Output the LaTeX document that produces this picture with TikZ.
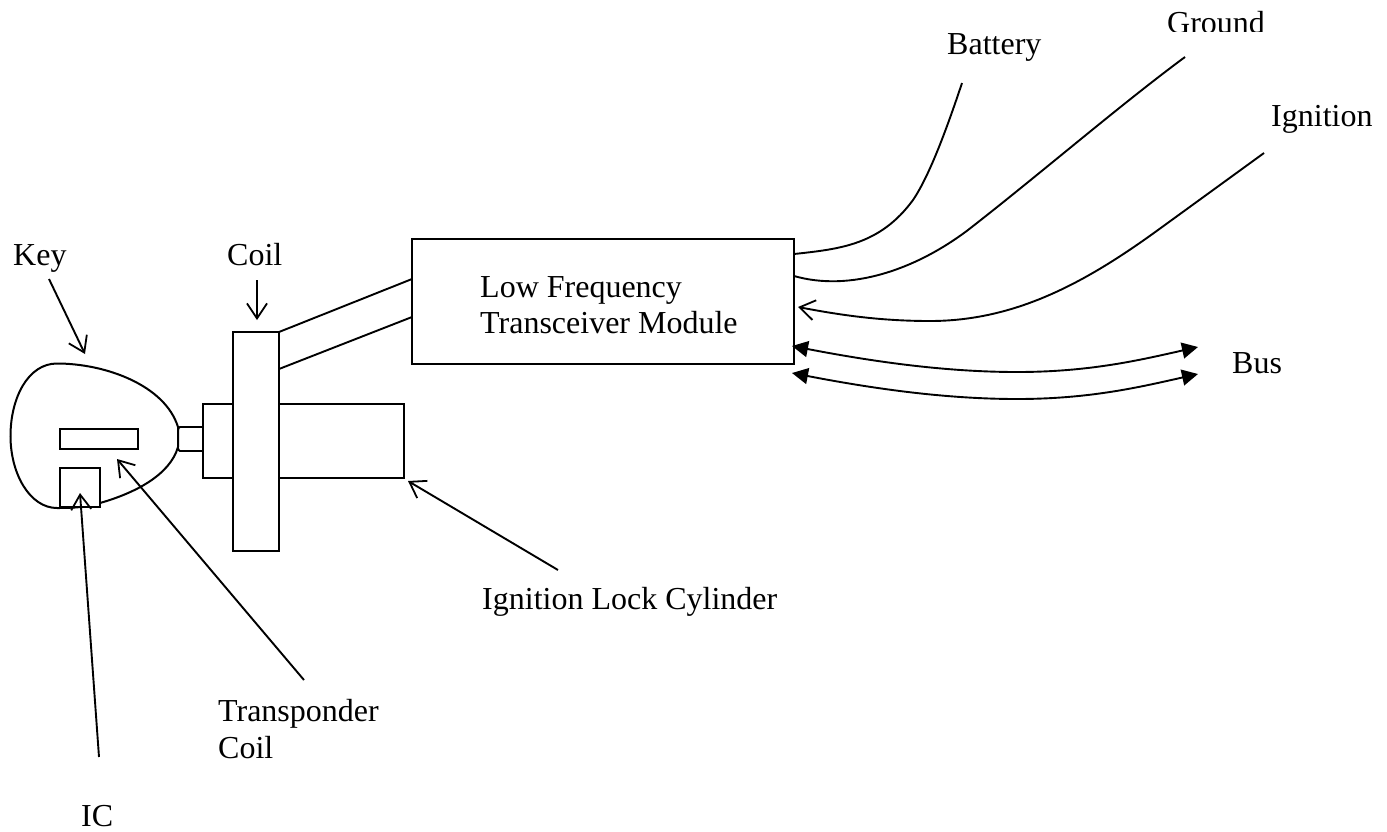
\documentclass[tikz,border=0pt]{standalone}
\usepackage{fontspec}
\setmainfont{Liberation Serif}
\usetikzlibrary{arrows.meta}
\tikzset{
  lbl/.style={anchor=base west,inner sep=0pt,font=\fontsize{32}{36}\selectfont},
  part/.style={draw=black,line width=2pt,fill=white,inner sep=0pt},
  wire/.style={draw=black,line width=1.9pt},
  openarrow/.style={wire,-{Straight Barb[length=15pt,width=20pt,line width=1.8pt]}},
  busarrow/.style={wire,{Triangle[length=16pt,width=16pt]}-{Triangle[length=16pt,width=16pt]}},
}
\begin{document}
\begin{tikzpicture}[x=1pt,y=-1pt]
\useasboundingbox (0,0) rectangle (1387,831);
% key
\draw[wire,line width=2pt] (57,363.5)
  .. controls (28,363.5) and (10.5,398) .. (10.5,436)
  .. controls (10.5,474) and (30,508) .. (57,508)
  .. controls (75,508) and (88,507) .. (100,503)
  .. controls (135,493) and (170,475) .. (178,447)
  -- (178,427)
  .. controls (165,385) and (105,363.5) .. (57,363.5) -- cycle;
\coordinate (sTR) at (204,427);
\coordinate (sBR) at (204,451);
\draw[wire] (sTR) -- (180,427) to[out=180,in=70] (178,430) -- (178,448) to[out=-70,in=180] (180,451) -- (sBR);
% boxes
\node[part,minimum width=78pt,minimum height=20pt] (tcoil) at (99,439) {};
\node[part,minimum width=40pt,minimum height=39pt] (ic) at (80,487.5) {};
\node[part,minimum width=125pt,minimum height=74pt] (cyl) at (341.5,441) {};
\node[part,minimum width=31pt,minimum height=74pt] (collar) at (218.5,441) {};
\node[part,minimum width=46pt,minimum height=219pt] (coil) at (256,441.5) {};
\node[part,minimum width=382pt,minimum height=125pt] (mod) at (603,301.5) {};
% coil to module
\coordinate (c1) at (279,332); \coordinate (m1) at (412,279);
\coordinate (c2) at (279,369); \coordinate (m2) at (412,317);
\draw[wire] (c1) -- (m1);
\draw[wire] (c2) -- (m2);
% labels
\node[lbl] (lkey) at (13,265) {Key};
\node[lbl] (lcoil) at (227,265) {Coil};
\node[lbl] (lmod1) at (480,297) {Low Frequency};
\node[lbl] (lmod2) at (480,333) {Transceiver Module};
\node[lbl] (lbat) at (947,54) {Battery};
\node[lbl] (lgnd) at (1167,33.5) {Ground};
\fill[white] (1150,32) rectangle (1275,44);
\node[lbl] (lign) at (1271,126) {Ignition};
\node[lbl] (lbus) at (1232,373) {Bus};
\node[lbl] (lcyl) at (482,609) {Ignition Lock Cylinder};
\node[lbl] (ltc1) at (218,721) {Transponder};
\node[lbl] (ltc2) at (218,758) {Coil};
\node[lbl] (lic) at (81,826) {IC};
% pointer arrows
\coordinate (akS) at (49,279); \coordinate (akE) at (85,354);
\draw[openarrow] (akS) -- (akE);
\coordinate (acS) at (257,280); \coordinate (acE) at (257,320);
\draw[openarrow] (acS) -- (acE);
\coordinate (aiS) at (99,757); \coordinate (aiE) at (80,493);
\draw[openarrow] (aiS) -- (aiE);
\coordinate (atS) at (304,680); \coordinate (atE) at (117,459);
\draw[openarrow] (atS) -- (atE);
\coordinate (alS) at (558,570); \coordinate (alE) at (408,481);
\draw[openarrow] (alS) -- (alE);
% wires
\coordinate (wb) at (794,254); \coordinate (wbE) at (962,83);
\draw[wire] (wb) .. controls (840,249) and (880,245) .. (913,200)
  .. controls (930,175) and (948,125) .. (wbE);
\coordinate (wg) at (794,276); \coordinate (wgE) at (1185,57);
\draw[wire] (wg) .. controls (850,292) and (915,270) .. (968,230)
  .. controls (1040,174) and (1120,105) .. (wgE);
\coordinate (wiS) at (1264,153); \coordinate (wiE) at (798,307);
\draw[openarrow] (wiS) -- (1158,230) .. controls (1085,283) and (1015,321) .. (930,321)
  .. controls (880,321) and (840,315) .. (wiE);
\coordinate (b1a) at (792,346); \coordinate (b1b) at (1198,347);
\draw[busarrow] (b1a) .. controls (880,363) and (950,372) .. (1017,372)
  .. controls (1090,372) and (1140,360) .. (b1b);
\coordinate (b2a) at (792,373); \coordinate (b2b) at (1198,374);
\draw[busarrow] (b2a) .. controls (880,390) and (950,399) .. (1017,399)
  .. controls (1090,399) and (1140,387) .. (b2b);
\end{tikzpicture}
\end{document}
